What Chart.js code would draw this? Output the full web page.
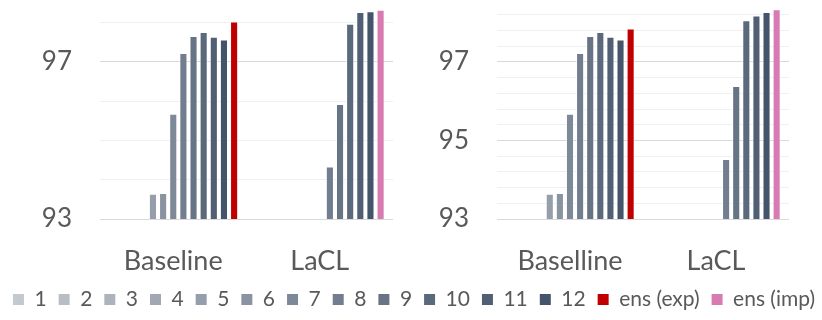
<!DOCTYPE html>
<html>
<head>
<meta charset="utf-8">
<script src="https://cdn.jsdelivr.net/npm/chart.js@4.4.1/dist/chart.umd.min.js"></script>
<style>
body { margin: 0; background: #fff; width: 822px; height: 320px; overflow: hidden; position: relative; }
.row { display: flex; }
.box { position: relative; width: 411px; height: 280px; }
.leg { position: absolute; left: -17px; top: 277px; width: 862px; height: 80px; }
</style>
</head>
<body>
<div class="row">
  <div class="box"><canvas id="chartLeft"></canvas></div>
  <div class="box"><canvas id="chartRight"></canvas></div>
</div>
<div class="leg"><canvas id="chartLegend"></canvas></div>
<script>
var categoriesLeft = ["Baseline", "LaCL"];
var categoriesRight = ["Baselline", "LaCL"];

var seriesNames = ["1", "2", "3", "4", "5", "6", "7", "8", "9", "10", "11", "12"];
var seriesColors = ["#c4c8cf", "#b8bdc6", "#adb3bd", "#a1a8b3", "#959eaa", "#8a93a1",
                    "#7e8998", "#727e8f", "#677485", "#5b697c", "#505f73", "#44546a"];
var ensNames = ["ens (exp)", "ens (imp)"];
var ensColors = ["#c00000", "#d87bb3"];

// left chart, one value per model (null = bar not shown)
var leftBaseline = [null, null, null, null, 93.64, 93.66, 95.68, 97.23, 97.66, 97.76, 97.64, 97.57];
var leftLacl     = [null, null, null, null, null, null, null, 94.34, 95.93, 97.97, 98.27, 98.29];
var leftEns      = [98.03, 98.33];

// right chart
var rightBaseline = [null, null, null, null, 93.64, 93.66, 95.68, 97.23, 97.66, 97.76, 97.64, 97.57];
var rightLacl     = [null, null, null, null, null, null, null, 94.53, 96.39, 98.06, 98.18, 98.27];
var rightEns      = [97.85, 98.34];

// gridlines and labelled ticks
var leftTicks = [93, 94, 95, 96, 97, 98];
var leftLabels = [93, 97];
var rightTicks = [93, 93.4, 93.8, 94.2, 94.6, 95, 95.4, 95.8, 96.2, 96.6, 97, 97.4, 97.8, 98.2];
var rightLabels = [93, 95, 97];

var fontName = "Lato";
var textColor = "#595959";

function makeDatasets(base, lacl, ens) {
    var sets = [];
    for (var i = 0; i < seriesNames.length; i++) {
        sets.push({
            label: seriesNames[i],
            data: [base[i], lacl[i]],
            backgroundColor: seriesColors[i],
            borderColor: "rgba(255,255,255,0.7)",
            borderWidth: 1,
            borderSkipped: "start"
        });
    }
    sets.push({
        label: "ens",
        data: ens,
        backgroundColor: ensColors,
        borderColor: "rgba(255,255,255,0.7)",
        borderWidth: 1,
        borderSkipped: "start"
    });
    return sets;
}

function makeChart(id, labels, datasets, ticksList, labelList, axisWidth, padRight) {
    var ctx = document.getElementById(id).getContext('2d');
    return new Chart(ctx, {
        type: 'bar',
        data: { labels: labels, datasets: datasets },
        options: {
            responsive: true,
            maintainAspectRatio: false,
            animation: false,
            layout: { padding: { left: 0, right: padRight, top: 5, bottom: 0 } },
            datasets: { bar: { categoryPercentage: 0.9, barPercentage: 0.8 } },
            plugins: { legend: { display: false }, tooltip: { enabled: false } },
            scales: {
                x: {
                    grid: { display: false },
                    border: { display: false },
                    afterFit: function (axis) {
                        axis.height = 61;
                        axis.paddingLeft = 0;
                        axis.paddingRight = 0;
                    },
                    ticks: {
                        padding: 18,
                        color: textColor,
                        font: { family: fontName, size: 27 }
                    }
                },
                y: {
                    min: 93,
                    max: 98.45,
                    afterBuildTicks: function (axis) {
                        axis.ticks = ticksList.map(function (v) { return { value: v }; });
                    },
                    afterFit: function (axis) {
                        axis.width = axisWidth;
                        axis.paddingTop = 0;
                        axis.paddingBottom = 0;
                    },
                    grid: {
                        drawTicks: false,
                        color: function (c) {
                            return labelList.indexOf(c.tick.value) >= 0 ? "#d9d9d9" : "#f0f0f0";
                        }
                    },
                    border: { display: false },
                    ticks: {
                        autoSkip: false,
                        padding: 28,
                        color: textColor,
                        font: { family: fontName, size: 26 },
                        callback: function (v) { return labelList.indexOf(v) >= 0 ? v : ""; }
                    }
                }
            }
        }
    });
}

var chartLeft = makeChart("chartLeft", categoriesLeft,
    makeDatasets(leftBaseline, leftLacl, leftEns), leftTicks, leftLabels, 100, 18);
var chartRight = makeChart("chartRight", categoriesRight,
    makeDatasets(rightBaseline, rightLacl, rightEns), rightTicks, rightLabels, 86, 33);

// shared legend
var legendSets = [];
seriesNames.concat(ensNames).forEach(function (name, i) {
    legendSets.push({
        label: name,
        data: [],
        backgroundColor: seriesColors.concat(ensColors)[i],
        borderWidth: 0
    });
});

var chartLegend = new Chart(document.getElementById("chartLegend").getContext('2d'), {
    type: 'bar',
    data: { labels: [], datasets: legendSets },
    options: {
        responsive: true,
        maintainAspectRatio: false,
        animation: false,
        scales: { x: { display: false }, y: { display: false } },
        plugins: {
            tooltip: { enabled: false },
            legend: {
                position: 'top',
                labels: {
                    boxWidth: 11,
                    boxHeight: 11,
                    padding: 12,
                    color: textColor,
                    font: { family: fontName, size: 21 }
                }
            }
        }
    }
});
</script>
</body>
</html>
